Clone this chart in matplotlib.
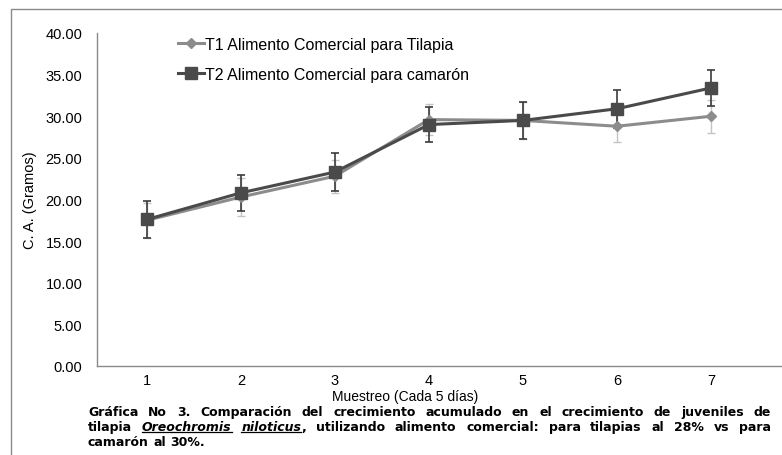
import matplotlib
matplotlib.use("Agg")
import matplotlib.pyplot as plt
from matplotlib.lines import Line2D

plt.rcParams['font.family'] = ['Liberation Sans', 'DejaVu Sans']

# ---- data ----
muestreo = [1, 2, 3, 4, 5, 6, 7]
t1_values = [17.5, 20.3, 22.8, 29.6, 29.5, 28.8, 30.0]
t1_err = [2.1, 2.3, 2.0, 1.9, 2.2, 1.9, 2.0]
t2_values = [17.6, 20.8, 23.3, 29.0, 29.5, 30.9, 33.4]
t2_err = [2.2, 2.2, 2.3, 2.1, 2.2, 2.3, 2.2]
t1_label = "T1 Alimento Comercial para Tilapia"
t2_label = "T2 Alimento Comercial para camarón"
y_ticks = [0, 5, 10, 15, 20, 25, 30, 35, 40]
x_label = "Muestreo (Cada 5 días)"
y_label = "C. A. (Gramos)"

W, H = 782, 456
fig = plt.figure(figsize=(W / 100, H / 100), dpi=100)


def fx(x):
    return x / W


def fy(y):
    return 1 - y / H


ax = fig.add_axes([fx(97), fy(367), fx(782) - fx(97), fy(34) - fy(367)])

c1 = '#8c8c8c'
c2 = '#4a4a4a'
ax.errorbar(muestreo, t1_values, yerr=t1_err, fmt='none', ecolor='#c4c4c4',
            elinewidth=1.0, capsize=3, capthick=1.0, zorder=2)
ax.errorbar(muestreo, t2_values, yerr=t2_err, fmt='none', ecolor='#3c3c3c',
            elinewidth=1.2, capsize=3, capthick=1.2, zorder=3)
l1, = ax.plot(muestreo, t1_values, color=c1, lw=2.2, marker='D', ms=5.5,
              markerfacecolor=c1, markeredgecolor=c1, zorder=4, label=t1_label)
l2, = ax.plot(muestreo, t2_values, color=c2, lw=2.2, marker='s', ms=8,
              markerfacecolor=c2, markeredgecolor=c2, zorder=5, label=t2_label)

ax.set_ylim(0, 40)
ax.set_xlim(0.47, 7.755)
ax.set_yticks(y_ticks)
ax.set_yticklabels([f"{v:.2f}" for v in y_ticks], fontsize=10.5)
ax.set_xticks(muestreo)
ax.set_xticklabels([str(m) for m in muestreo], fontsize=10.5)
ax.tick_params(axis='y', length=0, pad=10.5)
ax.tick_params(axis='x', length=0, pad=5)
for s in ['top', 'right']:
    ax.spines[s].set_visible(False)
for s in ['left', 'bottom']:
    ax.spines[s].set_color('#8a8a8a')
    ax.spines[s].set_linewidth(1.0)

fig.text(fx(405), fy(397.5), x_label, ha='center', va='center', fontsize=10)
fig.text(fx(30), fy(200), y_label, ha='center', va='center', fontsize=10.5, rotation=90)

leg = ax.legend(handles=[l1, l2], loc='upper left', bbox_to_anchor=(fx(178), fy(38)),
                bbox_transform=fig.transFigure, frameon=False, fontsize=11.5,
                handlelength=1.6, handletextpad=0.1, labelspacing=0.92,
                borderpad=0, borderaxespad=0)

# outer frame
fig.add_artist(Line2D([fx(11), fx(11), fx(782)], [fy(456), fy(10), fy(10)],
                      transform=fig.transFigure, color='#8a8a8a', lw=1.0))

# ---- caption (justified) ----
renderer = fig.canvas.get_renderer()
cap_lines = [
    [[("Gráfica", 'n')], [("No", 'n')], [("3.", 'n')], [("Comparación", 'n')], [("del", 'n')],
     [("crecimiento", 'n')], [("acumulado", 'n')], [("en", 'n')], [("el", 'n')],
     [("crecimiento", 'n')], [("de", 'n')], [("juveniles", 'n')], [("de", 'n')]],
    [[("tilapia", 'n')], [("Oreochromis", 'iu')], [("niloticus", 'iu'), (",", 'n')],
     [("utilizando", 'n')], [("alimento", 'n')], [("comercial:", 'n')], [("para", 'n')],
     [("tilapias", 'n')], [("al", 'n')], [("28%", 'n')], [("vs", 'n')], [("para", 'n')]],
    [[("camarón", 'n')], [("al", 'n')], [("30%.", 'n')]],
]
x0, x1 = 88, 771
ys = [413, 427.6, 442.2]
fs = 9
cap_family = ['DejaVu Sans']


def make_text(x, y, s, style):
    t = fig.text(fx(x), fy(y), s, ha='left', va='center', fontsize=fs, family=cap_family,
                 fontweight='bold', fontstyle='italic' if 'i' in style else 'normal')
    return t


def width_of(t):
    bb = t.get_window_extent(renderer=renderer)
    return bb.width


sp = fig.text(0, 0, "a a", fontsize=fs, fontweight='bold', family=cap_family)
sp2 = fig.text(0, 0, "aa", fontsize=fs, fontweight='bold', family=cap_family)
space_w = width_of(sp) - width_of(sp2)
sp.remove()
sp2.remove()

for li, (words, y) in enumerate(zip(cap_lines, ys)):
    word_segs = []
    total = 0
    for word in words:
        segs = []
        ww = 0
        for s, st in word:
            t = make_text(0, y, s, st)
            w = width_of(t)
            segs.append((t, w, st))
            ww += w
        word_segs.append((segs, ww))
        total += ww
    if li < 2:
        gap = (x1 - x0 - total) / (len(words) - 1)
    else:
        gap = space_w
    x = x0
    for segs, ww in word_segs:
        for t, w, st in segs:
            t.set_x(fx(x))
            if 'u' in st:
                fig.add_artist(Line2D([fx(x), fx(x + w)], [fy(y + 5.5), fy(y + 5.5)],
                                      transform=fig.transFigure, color='black', lw=0.9))
            x += w
        x += gap

fig.savefig("out.png", dpi=100)
